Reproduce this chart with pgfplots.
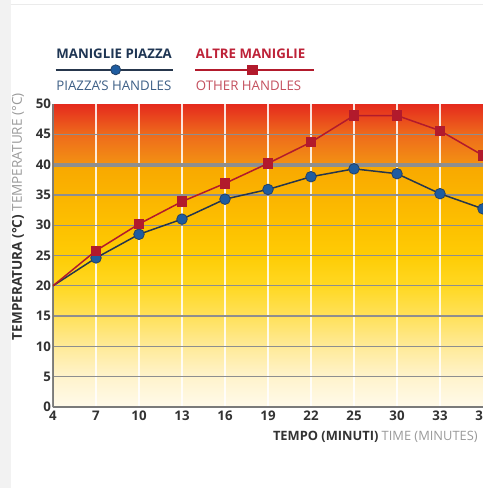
\documentclass[border=0pt]{standalone}
\usepackage{pgfplots}
\pgfplotsset{compat=1.18}
\usepackage{fontspec}
\setmainfont{Open Sans}
\definecolor{navyT}{HTML}{1E3553}
\definecolor{navyS}{HTML}{3D5F86}
\definecolor{redT}{HTML}{BE2238}
\definecolor{redS}{HTML}{C4505E}
\definecolor{blueM}{HTML}{1E5CA0}
\definecolor{blueL}{HTML}{26364C}
\definecolor{redL}{HTML}{B21A2C}
\definecolor{gridG}{HTML}{8E8E8E}
\definecolor{axG}{HTML}{7A7A7A}
\definecolor{txtD}{HTML}{333333}
\definecolor{txtL}{HTML}{9A9A9A}
\pgfdeclareverticalshading{lowheat}{100bp}{
  color(0bp)=(rgb,255:red,255;green,250;blue,234);
  color(25bp)=(rgb,255:red,255;green,250;blue,234);
  color(31.25bp)=(rgb,255:red,255;green,243;blue,204);
  color(37.5bp)=(rgb,255:red,255;green,234;blue,152);
  color(43.75bp)=(rgb,255:red,255;green,225;blue,90);
  color(50bp)=(rgb,255:red,255;green,216;blue,34);
  color(56.25bp)=(rgb,255:red,254;green,204;blue,5);
  color(62.5bp)=(rgb,255:red,253;green,192;blue,0);
  color(68.75bp)=(rgb,255:red,251;green,180;blue,0);
  color(75bp)=(rgb,255:red,248;green,168;blue,0);
  color(100bp)=(rgb,255:red,248;green,168;blue,0)}
\pgfdeclareverticalshading{highheat}{100bp}{
  color(0bp)=(rgb,255:red,243;green,146;blue,18);
  color(25bp)=(rgb,255:red,243;green,146;blue,18);
  color(50bp)=(rgb,255:red,238;green,107;blue,28);
  color(75bp)=(rgb,255:red,229;green,42;blue,29);
  color(100bp)=(rgb,255:red,229;green,42;blue,29)}
\pgfplotstableread{
x y
0 20
1 24.6
2 28.5
3 31.0
4 34.3
5 35.9
6 38.0
7 39.3
8 38.5
9 35.2
10 32.7
}\piazza
\pgfplotstableread{
x y
0 20
1 25.8
2 30.2
3 33.9
4 36.9
5 40.2
6 43.7
7 48.1
8 48.1
9 45.6
10 41.5
}\altre
\begin{document}
\begin{tikzpicture}
\fill[white] (-53bp,-81bp) rectangle (430bp,407bp);
\fill[black!5] (-53bp,-81bp) rectangle (-42bp,407bp);
\draw[black!8, line width=1bp] (-42bp,402bp) -- (430bp,402bp);
\begin{axis}[
  scale only axis,
  width=430bp, height=303bp,
  xmin=0, xmax=10, ymin=0, ymax=50,
  axis x line*=bottom, axis y line*=left,
  axis line style={axG, line width=2.2bp, -},
  xtick={0,...,10},
  xticklabels={4,7,10,13,16,19,22,25,30,33,\makebox[0pt][r]{3}},
  ytick={0,5,...,50},
  major tick length=0pt,
  /pgf/number format/assume math mode=true,
  ticklabel style={font=\bfseries\fontsize{13.3}{14}\selectfont, text=txtD},
  xticklabel style={yshift=-0.5bp},
  yticklabel style={xshift=1.5bp},
  xlabel={\textbf{\color{txtD}TEMPO (MINUTI)} {\color{txtL}TIME (MINUTES)}},
  xlabel style={at={(axis description cs:0.988,-0.08)}, anchor=north east, inner sep=0pt, font=\fontsize{12.9}{13}\selectfont},
  ylabel={\textbf{\color{txtD}TEMPERATURA (°C)} {\color{txtL}TEMPERATURE (°C)}},
  ylabel style={at={(axis description cs:-0.067,1.036)}, anchor=south east, inner sep=0pt, font=\fontsize{13.6}{14}\selectfont},
  legend columns=-1,
  legend style={draw=none, fill=none, inner sep=0pt, at={(axis description cs:0.004,1.112)}, anchor=west, /tikz/every even column/.append style={column sep=17bp}},
  legend cell align=left,
]
\fill[shading=lowheat] (axis cs:0,0) rectangle (axis cs:10,40);
\fill[shading=highheat] (axis cs:0,40) rectangle (axis cs:10,50);
\foreach \k in {1,...,9}{\edef\tmp{\noexpand\draw[white, line width=1.8bp, opacity=0.85] (axis cs:\k,0) -- (axis cs:\k,50);}\tmp}
\foreach \v in {5,10,...,45}{\edef\tmp{\noexpand\draw[gridG, line width=1.3bp] (axis cs:0,\v) -- (axis cs:10,\v);}\tmp}
\draw[gridG, line width=3.8bp] (axis cs:0,40) -- (axis cs:10,40);
\draw[axG, line width=2.2bp] (axis cs:0,50) -- (axis cs:0,0) -- (axis cs:10,0);
\addplot[blueL, line width=1.5bp, mark=*, mark size=5.3bp, mark indices={2,...,11},
  mark options={fill=blueM, draw=blueL!70!blueM, line width=0.8bp},
  legend image code/.code={
    \draw[blueL, line width=1.5bp] (0bp,0bp) -- (117bp,0bp);
    \fill[blueM, draw=blueL!70!blueM, line width=0.8bp] (60bp,0bp) circle (5bp);
    \node[anchor=south west, inner sep=0pt, text=navyT, font=\bfseries\fontsize{13.3}{14}\selectfont] at (0bp,9.5bp) {MANIGLIE PIAZZA};
    \node[anchor=north west, inner sep=0pt, text=navyS, font=\fontsize{13.3}{14}\selectfont] at (0bp,-10bp) {PIAZZA'S HANDLES};
  }] table[x=x, y=y] {\piazza};
\addlegendentry{}
\addplot[redL, line width=1.5bp, mark=square*, mark size=4.4bp, mark indices={2,...,11},
  mark options={fill=redL, draw=redL},
  legend image code/.code={
    \draw[redL, line width=1.5bp] (0bp,0bp) -- (119bp,0bp);
    \fill[redL] (53bp,-4.4bp) rectangle (61.8bp,4.4bp);
    \node[anchor=south west, inner sep=0pt, text=redT, font=\bfseries\fontsize{13.3}{14}\selectfont] at (0bp,9.5bp) {ALTRE MANIGLIE};
    \node[anchor=north west, inner sep=0pt, text=redS, font=\fontsize{13.3}{14}\selectfont] at (0bp,-10bp) {OTHER HANDLES};
  }] table[x=x, y=y] {\altre};
\addlegendentry{}
\end{axis}
\pgfresetboundingbox
\path[use as bounding box] (-53bp,-81bp) rectangle (430bp,407bp);
\end{tikzpicture}
\end{document}
